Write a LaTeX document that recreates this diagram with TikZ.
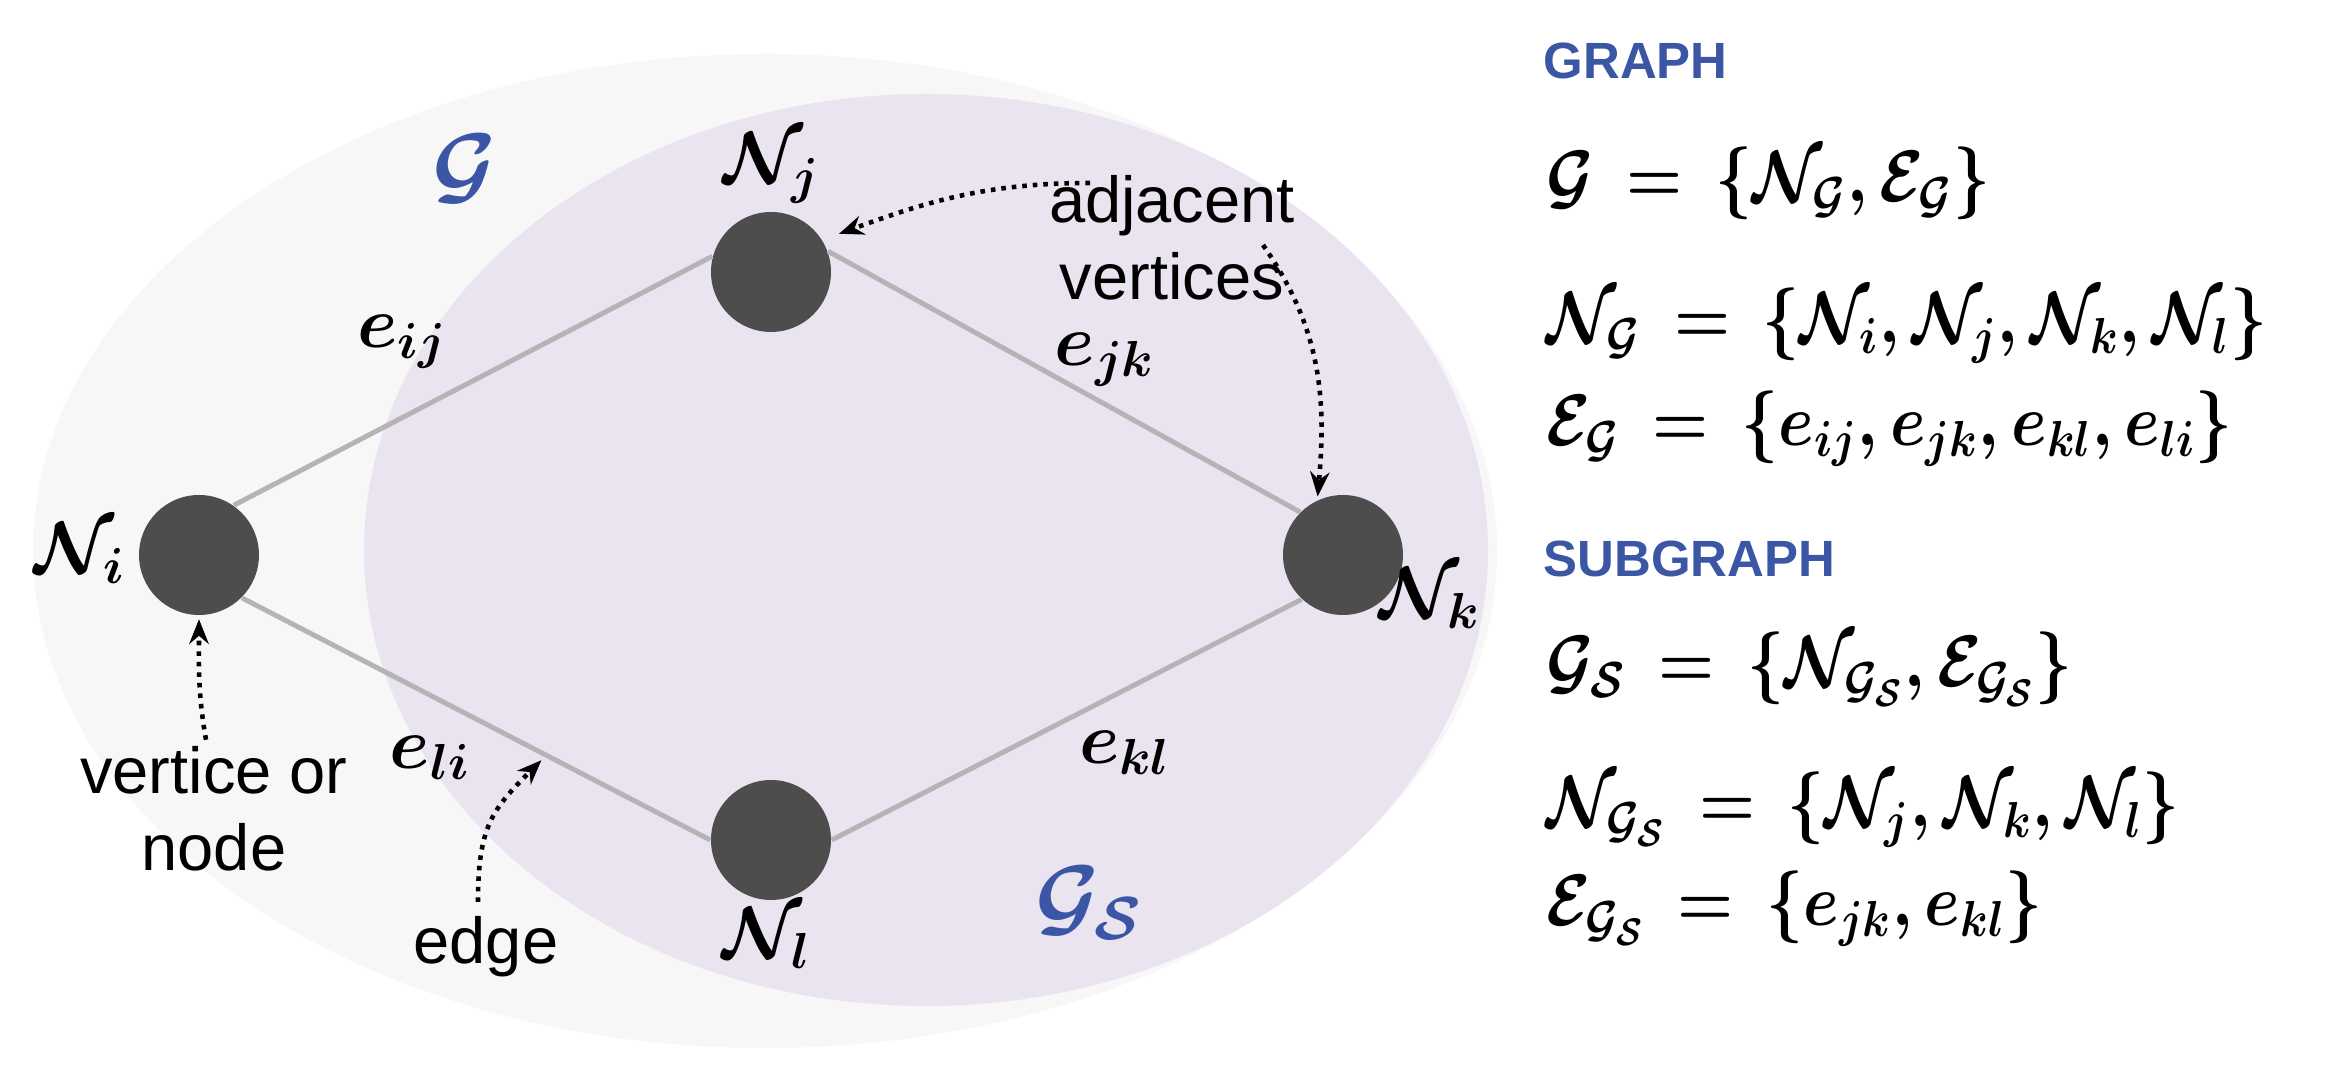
\documentclass[tikz,border=0pt]{standalone}
\usepackage{amsmath}
\usepackage{amssymb}
\usepackage{fontspec}
\usetikzlibrary{arrows.meta}
\newfontfamily\sanslabel{Liberation Sans}
\definecolor{graphblue}{RGB}{58,86,164}
\definecolor{vertexgray}{RGB}{77,77,77}
\definecolor{edgegray}{RGB}{180,180,180}
\definecolor{outerfill}{RGB}{247,247,247}
\definecolor{innerfill}{RGB}{233,228,240}
\newcommand{\narroweq}[1]{\scalebox{0.88}[1]{$#1$}}

\begin{document}
\begin{tikzpicture}[
	vertex/.style={circle,fill=vertexgray,minimum size=1.2cm,inner sep=0pt},
	link/.style={edgegray,line width=1.4pt},
	pointer/.style={line width=1.3pt,dash pattern=on 1.3pt off 1.7pt,-{Stealth[length=7pt,width=5.5pt]}},
	word/.style={font=\sanslabel\fontsize{18.5}{22}\selectfont,align=center,inner sep=0pt},
	mathlbl/.style={font=\fontsize{22}{26}\selectfont\boldmath,inner sep=0pt},
	setname/.style={font=\fontsize{25}{29}\selectfont\boldmath,text=graphblue,inner sep=0pt},
	heading/.style={font=\sanslabel\bfseries\fontsize{14.5}{17}\selectfont,text=graphblue,anchor=base west,inner sep=0pt},
	eqn/.style={font=\fontsize{21}{25}\selectfont\boldmath,anchor=base west,inner sep=0pt}
	]
	
	\useasboundingbox (0,0) rectangle (23.31,10.71);
	
	\fill[outerfill] (7.65,5.20) ellipse [x radius=7.32, y radius=4.97];
	\fill[innerfill] (9.26,5.21) ellipse [x radius=5.62, y radius=4.56];
	
	\node[vertex] (Ni) at (1.99,5.16) {};
	\node[vertex] (Nj) at (7.71,7.99) {};
	\node[vertex] (Nk) at (13.43,5.16) {};
	\node[vertex] (Nl) at (7.71,2.31) {};
	
	\draw[link] (Ni.55) -- (Nj.165);
	\draw[link] (Nj.20) -- (Nk.135);
	\draw[link] (Nk.-133) -- (Nl.0);
	\draw[link] (Nl.180) -- coordinate[pos=.35] (lihit) (Ni.-45);
	
	\node[mathlbl] (lNi) at (0.80,5.18) {$\mathcal{N}_i$};
	\node[mathlbl] (lNj) at (7.72,9.03) {$\mathcal{N}_j$};
	\node[mathlbl] (lNk) at (14.30,4.73) {$\mathcal{N}_k$};
	\node[mathlbl] (lNl) at (7.67,1.33) {$\mathcal{N}_l$};
	\node[mathlbl] (lij) at (4.02,7.29) {$e_{ij}$};
	\node[mathlbl] (ljk) at (11.05,7.11) {$e_{jk}$};
	\node[mathlbl] (lkl) at (11.25,3.18) {$e_{kl}$};
	\node[mathlbl] (lli) at (4.30,3.13) {$e_{li}$};
	\node[setname] (lG) at (4.65,9.02) {$\mathcal{G}$};
	\node[setname] (lGS) at (10.89,1.68) {$\mathcal{G}_{\mathcal{S}}$};
	
	\node[word] (adj) at (11.72,8.33) {adjacent\\vertices};
	\node[word] (vtx) at (2.14,2.62) {vertice or\\node};
	\node[word] (edg) at (4.86,1.24) {edge};
	
	\coordinate (adjtail) at (10.90,8.88);
	\coordinate (vertail) at (12.63,8.26);
	\draw[pointer,shorten >=5pt] (adjtail) to[out=180,in=20] (Nj.32);
	\draw[pointer,shorten >=1pt] (vertail) to[out=-55,in=85] (Nk.115);
	\draw[pointer,shorten >=1pt] ([xshift=-0.08cm,yshift=0.06cm]vtx.north) to[out=100,in=-90] (Ni.-90);
	\draw[pointer,shorten >=2pt] ([xshift=-0.08cm,yshift=0.14cm]edg.north) to[out=90,in=225,looseness=1.2] (lihit);
	
	\node[heading] (hgraph) at (15.43,9.92) {GRAPH};
	\node[eqn] (eqG) at (15.46,8.69) {\narroweq{\mathcal{G} \,=\, \{\mathcal{N}_{\mathcal{G}}, \mathcal{E}_{\mathcal{G}}\}}};
	\node[eqn] (eqNG) at (15.46,7.28) {\narroweq{\mathcal{N}_{\mathcal{G}} \,=\, \{\mathcal{N}_i, \mathcal{N}_j, \mathcal{N}_k, \mathcal{N}_l\}}};
	\node[eqn] (eqEG) at (15.46,6.25) {\narroweq{\mathcal{E}_{\mathcal{G}} \,=\, \{e_{ij}, e_{jk}, e_{kl}, e_{li}\}}};
	\node[heading] (hsub) at (15.43,4.94) {SUBGRAPH};
	\node[eqn] (eqGS) at (15.46,3.84) {\narroweq{\mathcal{G}_{\mathcal{S}} \,=\, \{\mathcal{N}_{\mathcal{G}_{\mathcal{S}}}, \mathcal{E}_{\mathcal{G}_{\mathcal{S}}}\}}};
	\node[eqn] (eqNGS) at (15.46,2.44) {\narroweq{\mathcal{N}_{\mathcal{G}_{\mathcal{S}}} \,=\, \{\mathcal{N}_j, \mathcal{N}_k, \mathcal{N}_l\}}};
	\node[eqn] (eqEGS) at (15.46,1.45) {\narroweq{\mathcal{E}_{\mathcal{G}_{\mathcal{S}}} \,=\, \{e_{jk}, e_{kl}\}}};
	
\end{tikzpicture}
\end{document}
